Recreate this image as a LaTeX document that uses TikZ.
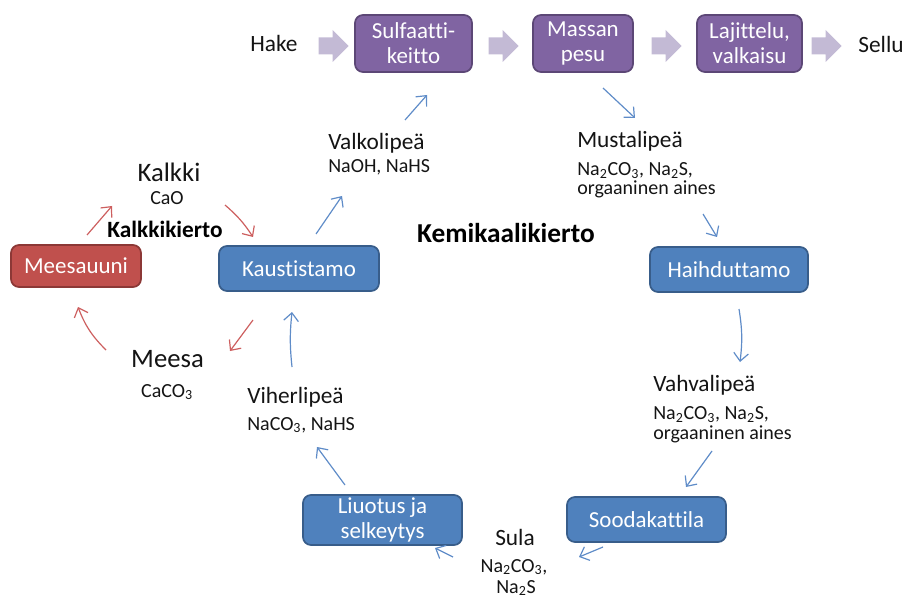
\documentclass[tikz,border=0pt]{standalone}
\usepackage{fontspec}
\setmainfont{Carlito}[RawFeature={-liga;-clig;-calt;-dlig}]
\usetikzlibrary{arrows.meta}
\definecolor{purp}{RGB}{128,100,162}
\definecolor{purpd}{RGB}{92,71,118}
\definecolor{bluf}{RGB}{79,129,189}
\definecolor{blud}{RGB}{56,93,138}
\definecolor{redf}{RGB}{192,80,77}
\definecolor{redd}{RGB}{140,56,54}
\definecolor{chevc}{RGB}{195,186,213}
\definecolor{bluarr}{RGB}{95,140,200}
\definecolor{redarr}{RGB}{205,95,95}
\definecolor{txt}{RGB}{20,20,20}
\newcommand{\fs}[2]{\fontsize{#1}{#2}\selectfont}
\tikzset{
  box/.style={rounded corners=6pt, line width=1.3pt, text=white, align=center,
    inner sep=0pt, font=\fs{17.2}{18.8}},
  purplebox/.style={box, fill=purp, draw=purpd},
  bluebox/.style={box, fill=bluf, draw=blud},
  redbox/.style={box, fill=redf, draw=redd},
  lbl/.style={text=txt, inner sep=0pt, font=\fs{17.5}{20}},
  big/.style={text=txt, inner sep=0pt, font=\fs{20}{22}},
  sub/.style={text=txt, inner sep=0pt, font=\fs{15}{14.6}, align=left},
  bolded/.style={text=black, inner sep=0pt, font=\bfseries\fs{17.5}{20}},
  barr/.style={draw=bluarr, line width=0.9pt, -{Straight Barb[length=6pt,width=11pt,line width=0.9pt]}},
  rarr/.style={draw=redarr, line width=0.9pt, -{Straight Barb[length=6pt,width=11pt,line width=0.9pt]}},
  chev/.pic={\fill[chevc] (-15,-8.5) -- (-1,-8.5) -- (-1,-16) -- (15,0) -- (-1,16) -- (-1,8.5) -- (-15,8.5) -- cycle;}
}
\begin{document}
\begin{tikzpicture}[x=0.75pt,y=-0.75pt]
\useasboundingbox (0,0) rectangle (912,598);
% top row
\node[lbl, anchor=base] (hake) at (274,52) {Hake};
\node[lbl, anchor=base] (sellu) at (881,53) {Sellu};
\node[purplebox, minimum width=87.75pt, minimum height=42.75pt] (sulf) at (413.5,43.5) {Sulfaatti-\\keitto};
\node[purplebox, minimum width=75pt, minimum height=42.75pt] (massa) at (583,43.5) {Massan\\pesu};
\node[purplebox, minimum width=78.75pt, minimum height=42.75pt] (laji) at (749.5,43.5) {Lajittelu,\\valkaisu};
\pic at (333.5,46) {chev};
\pic at (503.5,46) {chev};
\pic at (666.5,46) {chev};
\pic at (826.5,46) {chev};
% boxes
\node[bluebox, minimum width=118.5pt, minimum height=33.75pt] (haih) at (729,269.5) {Haihduttamo};
\node[bluebox, minimum width=119.25pt, minimum height=33.75pt] (sooda) at (646.5,519.5) {Soodakattila};
\node[bluebox, minimum width=119.25pt, minimum height=37.5pt] (liuo) at (382.5,520) {Liuotus ja\\selkeytys};
\node[bluebox, minimum width=120pt, minimum height=33.75pt] (kaus) at (299,268.5) {Kaustistamo};
\node[redbox, minimum width=97.5pt, minimum height=31.5pt] (mees) at (76,266) {Meesauuni};
% labels
\node[lbl, anchor=base west] (must) at (577,148) {Mustalipeä};
\node[sub, anchor=base west] (must2) at (577,195) {Na\textsubscript{2}CO\textsubscript{3}, Na\textsubscript{2}S,\\orgaaninen aines};
\node[lbl, anchor=base west] (vahv) at (653,391) {Vahvalipeä};
\node[sub, anchor=base west] (vahv2) at (653,439) {Na\textsubscript{2}CO\textsubscript{3}, Na\textsubscript{2}S,\\orgaaninen aines};
\node[lbl, anchor=base west] (vihe) at (247,403) {Viherlipeä};
\node[sub, anchor=base west] (vihe2) at (247,430) {NaCO\textsubscript{3}, NaHS};
\node[lbl, anchor=base west] (valk) at (328,150) {Valkolipeä};
\node[sub, anchor=base west] (valk2) at (328,173) {NaOH, NaHS};
\node[lbl, anchor=base] (sula) at (515,545) {Sula};
\node[sub, anchor=base] (sula2) at (514,572) {Na\textsubscript{2}CO\textsubscript{3},};
\node[sub, anchor=base] (sula3) at (516,593) {Na\textsubscript{2}S};
\node[big, anchor=base] (kalk) at (169,182) {Kalkki};
\node[sub, anchor=base] (kalk2) at (167,205) {CaO};
\node[big, anchor=base] (meesa) at (167.5,367) {Meesa};
\node[sub, anchor=base] (meesa2) at (167,397) {CaCO\textsubscript{3}};
\node[bolded, anchor=base] (kkk) at (165,238) {Kalkkikierto};
\node[bolded, anchor=base, font=\bfseries\fs{20.5}{22}] (kemk) at (506,243) {Kemikaalikierto};
% arrow end points
\coordinate (a1s) at (603,88);  \coordinate (a1e) at (635,118);
\coordinate (a2s) at (703,214); \coordinate (a2e) at (717,237);
\coordinate (a3s) at (739,309); \coordinate (a3e) at (740,362);
\coordinate (a4s) at (712,451); \coordinate (a4e) at (686,487);
\coordinate (a5s) at (603,547); \coordinate (a5e) at (579,557);
\coordinate (a6s) at (453,557); \coordinate (a6e) at (435,548);
\coordinate (a7s) at (345,485); \coordinate (a7e) at (317,447);
\coordinate (a8s) at (292,367); \coordinate (a8e) at (292,312);
\coordinate (a9s) at (316,234); \coordinate (a9e) at (342,196);
\coordinate (a10s) at (405,120); \coordinate (a10e) at (427,95);
\coordinate (r1s) at (253,320); \coordinate (r1e) at (230,351);
\coordinate (r2s) at (106,350); \coordinate (r2e) at (78,307);
\coordinate (r3s) at (87,235);  \coordinate (r3e) at (112,206);
\coordinate (r4s) at (225,205); \coordinate (r4e) at (253,237);
\draw[barr] (a1s) -- (a1e);
\draw[barr] (a2s) -- (a2e);
\draw[barr] (a3s) to[bend left=8] (a3e);
\draw[barr] (a4s) -- (a4e);
\draw[barr] (a5s) -- (a5e);
\draw[barr] (a6s) -- (a6e);
\draw[barr] (a7s) -- (a7e);
\draw[barr] (a8s) to[bend left=6] (a8e);
\draw[barr] (a9s) -- (a9e);
\draw[barr] (a10s) -- (a10e);
\draw[rarr] (r1s) -- (r1e);
\draw[rarr] (r2s) to[bend left=12] (r2e);
\draw[rarr] (r3s) -- (r3e);
\draw[rarr] (r4s) to[bend left=8] (r4e);
\end{tikzpicture}
\end{document}
